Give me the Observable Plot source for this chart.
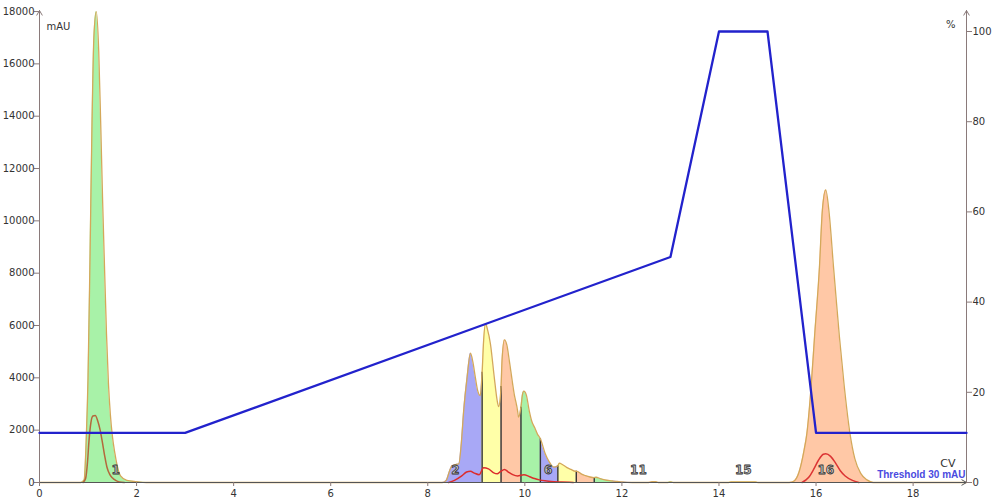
<!DOCTYPE html>
<html>
<head>
<meta charset="utf-8">
<script src="https://cdn.jsdelivr.net/npm/d3@7"></script>
<script src="https://cdn.jsdelivr.net/npm/@observablehq/plot@0.6"></script>
<style>
  html, body { margin: 0; padding: 0; background: #fff; }
  #chart { width: 996px; height: 502px; }
</style>
</head>
<body>
<div id="chart"></div>
<script>
// ---------- data ----------
// UV trace (mAU) vs column volumes
const uvCv = [0, 0.85, 0.92, 0.96, 1.00, 1.04, 1.08, 1.12, 1.17, 1.22, 1.26, 1.30, 1.34, 1.38, 1.42, 1.46, 1.50, 1.55, 1.60, 1.67, 1.80, 2.00, 2.20,
  8.30, 8.38, 8.45, 8.50, 8.60, 8.64, 8.69, 8.74, 8.81, 8.88, 8.93, 8.98, 9.03, 9.08, 9.12, 9.15, 9.19, 9.23, 9.29, 9.37, 9.43, 9.46, 9.51, 9.53, 9.58, 9.63, 9.68, 9.78, 9.85, 9.87,
  9.92, 9.95, 9.98, 10.03, 10.09, 10.15, 10.20, 10.26, 10.32, 10.42, 10.50, 10.60, 10.68, 10.71, 10.78, 10.86, 10.95, 11.04, 11.06, 11.09, 11.16, 11.25, 11.34,
  11.43, 11.47, 11.55, 11.65, 11.75, 11.82, 11.90, 12.00, 12.21, 12.55, 12.62, 12.70, 12.75, 12.95, 13.00, 13.06, 14.20, 14.25, 14.75, 14.80,
  15.45, 15.55, 15.65, 15.75, 15.81, 15.90, 15.97, 16.07, 16.13, 16.20, 16.27, 16.36, 16.42, 16.48, 16.58, 16.70, 16.80, 16.92, 17.05, 17.18, 19.1];
const uvMau = [0, 0, 100, 1500, 4000, 8500, 13500, 17000, 18000, 16500, 13800, 10800, 8200, 5700, 3800, 2600, 1800, 1150, 650, 250, 80, 30, 0,
  0, 80, 450, 640, 700, 710, 1480, 2750, 4020, 4940, 4600, 4020, 3500, 3320, 4210, 5400, 6070, 5850, 5310, 4020, 3130, 2900, 3670, 4660, 5450, 5250, 4660, 3390, 2750, 2500,
  2880, 3350, 3490, 3350, 2750, 2300, 2110, 1850, 1670, 1100, 800, 585, 640, 740, 680, 580, 500, 430, 430, 420, 330, 260, 210,
  190, 200, 150, 100, 70, 55, 40, 20, 0, 0, 30, 30, 0, 0, 25, 0, 0, 25, 25, 0,
  0, 60, 400, 1200, 1860, 3700, 5600, 8230, 10400, 11180, 10300, 8230, 6900, 5600, 3700, 1860, 900, 350, 100, 0, 0];

// second UV trace (red) — three segments
const red1Cv  = [0.90, 0.95, 0.99, 1.02, 1.06, 1.10, 1.15, 1.20, 1.25, 1.29, 1.34, 1.39, 1.45, 1.50, 1.57, 1.65, 1.75];
const red1Val = [0, 150, 800, 1600, 2300, 2540, 2560, 2350, 2000, 1600, 1050, 585, 300, 180, 80, 20, 0];
const red2Cv  = [8.43, 8.55, 8.70, 8.80, 8.88, 8.96, 9.06, 9.15, 9.25, 9.35, 9.43, 9.50, 9.58, 9.66, 9.75, 9.85, 9.98, 10.10, 10.20, 10.30, 10.45, 10.60, 10.75, 11.00];
const red2Val = [0, 80, 250, 400, 430, 360, 300, 560, 520, 380, 330, 420, 500, 400, 300, 250, 300, 220, 150, 100, 60, 30, 20, 0];
const red3Cv  = [15.71, 15.85, 15.95, 16.05, 16.15, 16.20, 16.30, 16.40, 16.50, 16.60, 16.75, 16.88];
const red3Val = [0, 200, 500, 850, 1080, 1100, 1000, 750, 450, 250, 80, 0];

// gradient (%B)
const gradCv  = [0, 3, 13, 14, 15, 16, 19.1];
const gradPct = [11, 11, 50, 100, 100, 11, 11];

// fractions
const fracIds   = [1, 2, 3, 4, 5, 6, 7, 8, 9, 10, 11, 12, 13, 14, 15, 16];
const fracStart = [0.85, 8.30, 9.12, 9.51, 9.92, 10.32, 10.68, 11.06, 11.43, 11.82, 12.21, 12.55, 12.95, 13.06, 14.20, 15.45];
const fracEnd   = [2.20, 9.12, 9.51, 9.92, 10.32, 10.68, 11.06, 11.43, 11.82, 12.21, 12.55, 12.75, 13.06, 14.20, 14.80, 17.18];
const fracColors = ["#a8f2a8", "#a8a8f6", "#ffffa8", "#ffc8a6"];
const fracBoundaries = [9.12, 9.51, 9.92, 10.32, 10.68, 11.06, 11.43];
const labelIds = ["1", "2", "6", "11", "15", "16"];
const labelCv  = [1.57, 8.57, 10.48, 12.34, 14.5, 16.2];

// ticks
const xTicks = [0, 2, 4, 6, 8, 10, 12, 14, 16, 18];
const yTicks = [0, 2000, 4000, 6000, 8000, 10000, 12000, 14000, 16000, 18000];
const pctTicks = [0, 20, 40, 60, 80, 100];

// ---------- build tables ----------
const X_MAX = 19.1, Y_MAX = 18040;
const PCT = 172.37; // mAU per % on the shared vertical axis
const uv = uvCv.map((x, i) => ({x, y: uvMau[i]}));
const toRows = (xs, ys) => xs.map((x, i) => ({x, y: ys[i]}));
const red1 = toRows(red1Cv, red1Val), red2 = toRows(red2Cv, red2Val), red3 = toRows(red3Cv, red3Val);
const grad = gradCv.map((x, i) => ({x, y: gradPct[i] * PCT}));
const uvAt = cv => uvMau[uvCv.indexOf(cv)];

const fracMarks = fracIds.map((id, i) => Plot.areaY(
  uv.filter(d => d.x >= fracStart[i] - 1e-9 && d.x <= fracEnd[i] + 1e-9),
  {x: "x", y: "y", fill: fracColors[(id - 1) % 4], curve: "monotone-x"}
));

const axisColor = "#8a7a7a";

const chart = Plot.plot({
  width: 996,
  height: 502,
  marginLeft: 39,
  marginRight: 30,
  marginTop: 10,
  marginBottom: 20,
  x: {domain: [0, X_MAX]},
  y: {domain: [0, Y_MAX]},
  style: {fontFamily: "DejaVu Sans", fontSize: "10px", color: "#333", background: "#fff", overflow: "visible"},
  marks: [
    ...fracMarks,
    Plot.ruleX(fracBoundaries, {x: d => d, y1: 0, y2: d => uvAt(d), stroke: "#333", strokeWidth: 1.4}),
    Plot.line(uv, {x: "x", y: "y", stroke: "#d4a85a", strokeWidth: 1.3, curve: "monotone-x"}),
    Plot.line(red1, {x: "x", y: "y", stroke: "#b4683c", strokeWidth: 1.5, curve: "monotone-x"}),
    Plot.line(red2, {x: "x", y: "y", stroke: "#dc2c2c", strokeWidth: 1.5, curve: "monotone-x"}),
    Plot.line(red3, {x: "x", y: "y", stroke: "#dc3434", strokeWidth: 1.5, curve: "monotone-x"}),
    // axes lines with arrows
    Plot.arrow([{x1: 0, y1: 0, x2: X_MAX, y2: 0}], {x1: "x1", y1: "y1", x2: "x2", y2: "y2", stroke: "#555", strokeWidth: 1, headLength: 8}),
    Plot.arrow([{x1: 0, y1: 0, x2: 0, y2: Y_MAX}], {x1: "x1", y1: "y1", x2: "x2", y2: "y2", stroke: axisColor, strokeWidth: 1, headLength: 8}),
    Plot.arrow([{x1: X_MAX, y1: 0, x2: X_MAX, y2: Y_MAX}], {x1: "x1", y1: "y1", x2: "x2", y2: "y2", stroke: axisColor, strokeWidth: 1, headLength: 8}),
    Plot.line(grad, {x: "x", y: "y", stroke: "#2222cc", strokeWidth: 2.3}),
    Plot.text(labelIds, {x: (d, i) => labelCv[i], frameAnchor: "bottom", dy: -9, text: d => d,
      fill: "#c4c4c4", stroke: "#333", strokeWidth: 0.8, paintOrder: "normal", fontSize: 12, fontWeight: "bold"}),
    Plot.axisX(xTicks, {tickSize: 4, tickPadding: 3, stroke: axisColor, fill: "#333", label: null}),
    Plot.axisY(yTicks, {anchor: "left", tickSize: 5, tickPadding: 0, stroke: axisColor, fill: "#333", label: null, tickFormat: d => String(d)}),
    Plot.axisY(pctTicks.map(p => p * PCT), {anchor: "right", tickSize: 5, tickPadding: 1, stroke: axisColor, fill: "#333", label: null, tickFormat: d => String(Math.round(d / PCT))}),
    Plot.text(["mAU"], {frameAnchor: "top-left", dx: 7, dy: 12, text: d => d, textAnchor: "start", fill: "#333"}),
    Plot.text(["%"], {frameAnchor: "top-right", dx: -11, dy: 10, text: d => d, fill: "#333"}),
    Plot.text(["CV"], {frameAnchor: "bottom-right", dx: -11, dy: -16, text: d => d, fill: "#333", fontSize: 11}),
    Plot.text(["Threshold 30 mAU"], {frameAnchor: "bottom-right", dx: -1, dy: -5, textAnchor: "end", text: d => d,
      fill: "#4a4ae0", fontFamily: "Liberation Sans", fontWeight: "bold", fontSize: 10})
  ]
});
document.getElementById("chart").appendChild(chart);
</script>
</body>
</html>
